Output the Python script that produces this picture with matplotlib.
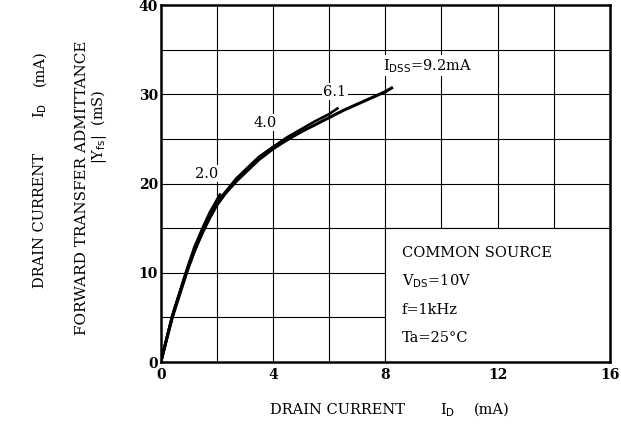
import numpy as np
import matplotlib
matplotlib.use('Agg')
from matplotlib import pyplot as plt
from matplotlib.patches import Rectangle

# |Yfs| (mS) vs ID (mA), one curve per IDSS value
x_92 = [0, 0.2, 0.41, 0.65, 0.94, 1.2, 1.5, 1.75, 2.0, 2.3, 2.7, 3.0, 3.5, 4.0, 4.5, 5, 5.5, 6, 6.5, 7, 7.5, 8, 8.27]
y_92 = [0, 2.5, 5.0, 7.4, 10.2, 12.5, 14.6, 16.2, 17.6, 18.9, 20.3, 21.2, 22.7, 23.9, 24.9, 25.8, 26.6, 27.4, 28.2, 28.9, 29.6, 30.3, 30.8]
x_61 = [0, 0.41, 0.94, 1.5, 2.0, 2.7, 3.0, 3.5, 4.0, 4.5, 5, 5.5, 6, 6.33]
y_61 = [0, 5.1, 10.3, 14.8, 17.8, 20.5, 21.4, 22.9, 24.1, 25.2, 26.1, 27.0, 27.8, 28.5]
x_40 = [0, 0.41, 0.94, 1.5, 2.0, 2.7, 3.0, 3.5, 4.0, 4.5]
y_40 = [0, 5.2, 10.4, 14.9, 17.9, 20.6, 21.5, 23.0, 24.1, 25.1]
x_20 = [0, 0.41, 0.94, 1.2, 1.5, 1.75, 2.13]
y_20 = [0, 5.2, 10.5, 12.9, 15.1, 16.8, 18.9]

xticks = [0, 4, 8, 12, 16]
yticks = [0, 10, 20, 30, 40]

plt.rcParams['font.family'] = 'DejaVu Serif'
plt.rcParams['font.size'] = 10

fig = plt.figure(figsize=(6.21, 4.26), dpi=100)
ax = fig.add_axes([0.259, 0.150, 0.723, 0.838])
ax.set_xlim(0, 16)
ax.set_ylim(0, 40)

# grid, blank area behind the conditions box
for gx in np.arange(2, 16, 2):
    ax.axvline(gx, color='black', lw=0.8, zorder=1)
for gy in np.arange(5, 40, 5):
    ax.axhline(gy, color='black', lw=0.8, zorder=1)
ax.add_patch(Rectangle((8, 0), 8, 15, facecolor='white', edgecolor='black',
                       lw=0.8, zorder=1.5))

for xs, ys, w in [(x_92, y_92, 2.2), (x_61, y_61, 1.8), (x_40, y_40, 2.0), (x_20, y_20, 2.0)]:
    ax.plot(xs, ys, color='black', lw=w, solid_capstyle='butt',
            solid_joinstyle='round', zorder=3)

box = dict(facecolor='white', edgecolor='none', pad=1)
ax.text(1.63, 21.1, '2.0', ha='center', va='center', fontsize=10.5, bbox=box, zorder=4)
ax.text(3.7, 26.8, '4.0', ha='center', va='center', fontsize=10.5, bbox=box, zorder=4)
ax.text(6.2, 30.3, '6.1', ha='center', va='center', fontsize=10.5, bbox=box, zorder=4)
ax.text(7.9, 33.2, r'I$_{\rm DSS}$=9.2mA', ha='left', va='center', fontsize=10.5,
        bbox=box, zorder=4)

ax.text(8.59, 12.2, 'COMMON SOURCE', ha='left', va='center', fontsize=10.5, zorder=4)
ax.text(8.59, 9.1, r'V$_{\rm DS}$=10V', ha='left', va='center', fontsize=10.5, zorder=4)
ax.text(8.59, 5.8, 'f=1kHz', ha='left', va='center', fontsize=10.5, zorder=4)
ax.text(8.59, 2.7, 'Ta=25°C', ha='left', va='center', fontsize=10.5, zorder=4)

ax.set_xticks(xticks)
ax.set_yticks(yticks)
ax.tick_params(length=0, labelsize=10, pad=4)
ax.tick_params(axis='y', pad=2)
for lab in ax.get_xticklabels() + ax.get_yticklabels():
    lab.set_fontweight('bold')
for s in ax.spines.values():
    s.set_linewidth(1.8)
    s.set_zorder(5)

# x axis title, in pieces to keep the wide spacing
fig.text(338 / 621, 0.038, 'DRAIN CURRENT', ha='center', va='center', fontsize=10.5)
fig.text(448 / 621, 0.038, r'I$_{\rm D}$', ha='center', va='center', fontsize=10.5)
fig.text(492 / 621, 0.038, '(mA)', ha='center', va='center', fontsize=10.5)

# y axis titles
fig.text(40 / 621, 1 - 220 / 426, 'DRAIN CURRENT', rotation=90, ha='center', va='center', fontsize=10.5)
fig.text(40 / 621, 1 - 110 / 426, r'I$_{\rm D}$', rotation=90, ha='center', va='center', fontsize=10.5)
fig.text(40 / 621, 1 - 68 / 426, '(mA)', rotation=90, ha='center', va='center', fontsize=10.5)
fig.text(82 / 621, 1 - 188 / 426, 'FORWARD TRANSFER ADMITTANCE', rotation=90,
         ha='center', va='center', fontsize=11)
fig.text(99 / 621, 1 - 127 / 426, r'|Y$_{\rm fs}$|  (mS)', rotation=90,
         ha='center', va='center', fontsize=10.5)

fig.savefig('out.png', dpi=100)
